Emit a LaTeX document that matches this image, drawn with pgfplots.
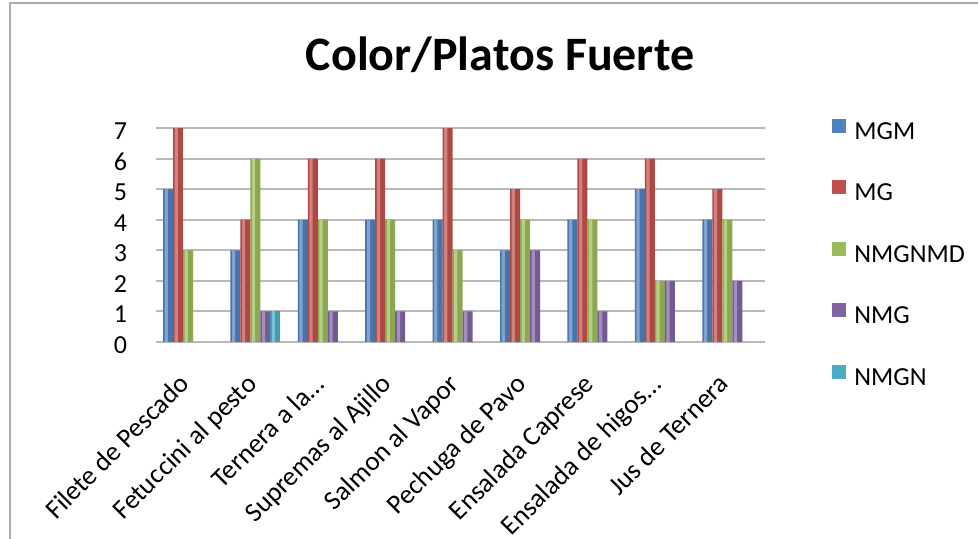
\documentclass[border=0pt]{standalone}
\usepackage{fontspec}
\setmainfont{Carlito}
\usepackage{pgfplots}
\usepackage{pgfplotstable}
\pgfplotsset{compat=1.18}

\definecolor{cMGM}{HTML}{4F81BD}
\definecolor{cMG}{HTML}{C0504D}
\definecolor{cNMGNMD}{HTML}{9BBB59}
\definecolor{cNMG}{HTML}{8064A2}
\definecolor{cNMGN}{HTML}{4BACC6}

% Votes per dish and colour rating (nan = no bar)
\pgfplotstableread{
idx MGM MG NMGNMD NMG NMGN
0   5   7  3      nan nan
1   3   4  6      1   1
2   4   6  4      1   nan
3   4   6  4      1   nan
4   4   7  3      1   nan
5   3   5  4      3   nan
6   4   6  4      1   nan
7   5   6  2      2   nan
8   4   5  4      2   nan
}\platos

\pgfplotsset{
  % column body
  col/.style 2 args={draw=none, fill=#1!90!black, bar shift=#2, bar width=5pt,
    legend image code/.code={\fill[#1] (0pt,-0.2pt) rectangle (7pt,6.8pt);}},
  % light streak that gives the column a rounded look
  hl/.style 2 args={draw=none, fill=#1!72!white, bar shift=#2-0.9pt, bar width=1.6pt, forget plot},
}

\newcommand\series[2]{%
  \addplot[col={c#1}{#2}] table[x=idx, y=#1] {\platos};
  \addplot[hl={c#1}{#2}] table[x=idx, y=#1] {\platos};
}

\begin{document}
\begin{tikzpicture}[x=1pt,y=1pt]
\path[use as bounding box] (0,0) rectangle (489,269.5);
\draw[gray!65, line width=1pt] (5,-20) -- (5,268) -- (520,268);
\node[font=\fontsize{24}{28}\selectfont\bfseries] at (250,242) {Color/Platos Fuerte};
\begin{axis}[
  at={(78pt,98.5pt)}, anchor=south west, scale only axis,
  width=304.5pt, height=107pt,
  xmin=-0.475, xmax=8.56, ymin=0, ymax=7,
  ybar,
  axis line style={draw=none}, tick style={draw=none},
  ymajorgrids, major grid style={gray!55, line width=1pt},
  ytick={0,...,7},
  xtick={0,...,8},
  xticklabels={Filete de Pescado, Fetuccini al pesto, {Ternera a la\ldots}, Supremas al Ajillo, Salmon al Vapor, Pechuga de Pavo, Ensalada Caprese, {Ensalada de higos\ldots}, Jus de Ternera},
  /pgf/number format/assume math mode=true,
  tick label style={font=\fontsize{13}{15}\selectfont},
  yticklabel style={xshift=-11pt, yshift=-1.5pt},
  xticklabel style={font=\fontsize{13.5}{16}\selectfont, xshift=1.5pt, yshift=-17.5pt, rotate=45, anchor=base east, inner sep=0pt},
  legend style={at={(1.110,1.044)}, anchor=north west, draw=none, fill=none,
    inner sep=0pt, row sep=18.4pt, column sep=4pt,
    font=\fontsize{13}{15}\selectfont,
    nodes={inner sep=0pt, text height=9pt, text depth=2pt}},
  legend cell align=left,
]
\series{MGM}{-10pt}
\series{MG}{-5pt}
\series{NMGNMD}{0pt}
\series{NMG}{5pt}
\series{NMGN}{10pt}
\legend{MGM, MG, NMGNMD, NMG, NMGN}
% front edge of the wall and floor
\pgfplotsinvokeforeach{0,...,7}{
  \draw[gray!55, line width=1pt] (axis cs:-0.475,#1) -- ++(-4.5pt,-3pt) -- ++(-4pt,0pt);
}
\draw[gray!55, line width=1pt] ([shift={(-4.5pt,-3pt)}]axis cs:-0.475,0) -- ([shift={(-4.5pt,-3pt)}]axis cs:-0.475,7);
\draw[gray!55, line width=1pt] ([shift={(-4.5pt,-3pt)}]axis cs:-0.475,0) -- ([shift={(-4.5pt,-3pt)}]axis cs:8.56,0) -- (axis cs:8.56,0);
\end{axis}
\end{tikzpicture}
\end{document}
